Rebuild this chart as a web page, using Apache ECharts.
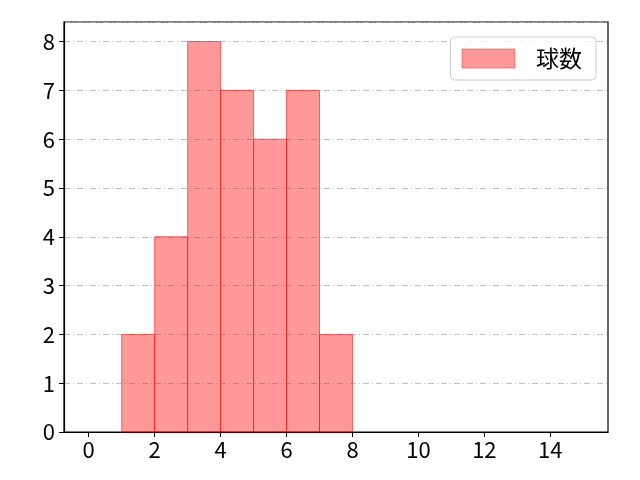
<!DOCTYPE html>
<html>
<head>
<meta charset="utf-8">
<script src="https://cdn.jsdelivr.net/npm/echarts@6/dist/echarts.min.js"></script>
<style>
  html, body { margin: 0; padding: 0; background: #fff; }
  #chart { width: 640px; height: 480px; }
</style>
</head>
<body>
<div id="chart"></div>
<script>
// histogram bins (left edge, right edge) and counts
const binStarts = [1, 2, 3, 4, 5, 6, 7];
const binEnds = [2, 3, 4, 5, 6, 7, 8];
const counts = [2, 4, 8, 7, 6, 7, 2];
const xTicks = [0, 2, 4, 6, 8, 10, 12, 14];
const seriesName = "球数";

const font = "'Noto Sans CJK JP', sans-serif";
const chart = echarts.init(document.getElementById("chart"));

const data = binStarts.map((s, i) => [s, binEnds[i], counts[i]]);

const option = {
  animation: false,
  grid: {
    left: 64, right: 32, top: 22, bottom: 48,
    show: true, borderColor: "#000", borderWidth: 1.2
  },
  legend: {
    right: 44, top: 37,
    icon: "rect",
    itemWidth: 53, itemHeight: 19,
    padding: [10, 14, 10, 11],
    borderColor: "#ccc", borderWidth: 1, borderRadius: 4,
    backgroundColor: "rgba(255,255,255,0.8)",
    textStyle: { fontSize: 23, color: "#000", fontFamily: font, padding: [0, 0, 0, 16] },
    data: [{ name: seriesName, itemStyle: { color: "rgba(255,0,0,0.4)", borderColor: "rgba(255,0,0,0.4)", borderWidth: 1 } }]
  },
  xAxis: {
    type: "value",
    min: -0.75, max: 15.75,
    interval: 2,
    axisLine: { show: true, onZero: false, lineStyle: { color: "#000", width: 1.2 } },
    axisTick: { show: true, inside: false, length: 5, lineStyle: { color: "#000" },
      customValues: xTicks },
    axisLabel: { show: true, fontSize: 22, color: "#000", margin: 7, fontFamily: font,
      customValues: xTicks },
    splitLine: { show: false }
  },
  yAxis: {
    type: "value",
    min: 0, max: 8.4,
    interval: 1,
    axisLine: { show: true, onZero: false, lineStyle: { color: "#000", width: 1.2 } },
    axisTick: { show: true, length: 5, lineStyle: { color: "#000" } },
    axisLabel: { show: true, fontSize: 22, color: "#000", margin: 9, fontFamily: font,
      showMaxLabel: false },
    splitLine: { show: true, lineStyle: { color: "#b0b0b0", width: 0.8, type: [6, 3, 1, 3] } }
  },
  series: [{
    name: seriesName,
    type: "custom",
    data: data,
    encode: { x: [0, 1], y: 2 },
    renderItem: function (params, api) {
      const p0 = api.coord([api.value(0), api.value(2)]);
      const p1 = api.coord([api.value(1), 0]);
      return {
        type: "rect",
        shape: { x: p0[0], y: p0[1], width: p1[0] - p0[0], height: p1[1] - p0[1] },
        style: { fill: "rgba(255,0,0,0.4)", stroke: "rgba(255,0,0,0.55)", lineWidth: 1 }
      };
    }
  }]
};

chart.setOption(option);
</script>
</body>
</html>
